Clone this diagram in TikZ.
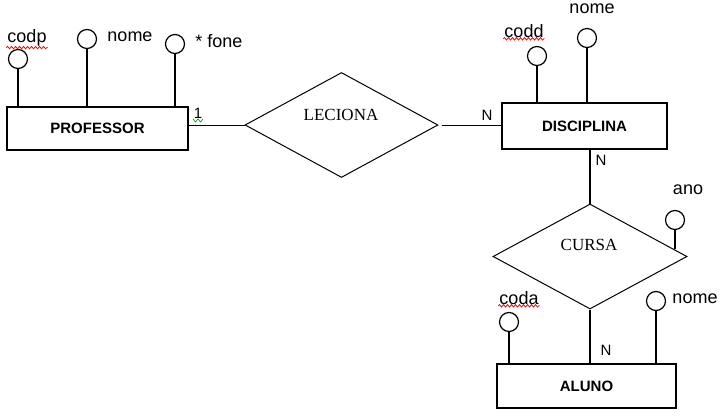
\documentclass[tikz,border=0pt]{standalone}
\usepackage{fontspec}
\setmainfont{Liberation Sans}
\newfontfamily\serifrel{Liberation Serif}
\usetikzlibrary{shapes.geometric,decorations.pathmorphing}
\tikzset{
  entity/.style={draw,line width=1.2pt,rectangle,inner sep=0pt,font=\fontsize{15}{15}\selectfont\bfseries},
  rel/.style={draw,line width=1pt,diamond,aspect=1.85,inner sep=0pt,font=\fontsize{17}{17}\serifrel},
  attr/.style={draw,line width=1.2pt,circle,minimum size=19pt,inner sep=0pt},
  lbl/.style={font=\fontsize{18}{18}\selectfont,inner sep=0pt},
  card/.style={font=\fontsize{15}{15}\selectfont,inner sep=0pt},
  ln/.style={line width=1.2pt},
  squig/.style={decorate,decoration={snake,amplitude=1.2pt,segment length=4pt},line width=0.8pt}
}
\begin{document}
\begin{tikzpicture}[x=1pt,y=-1pt]
\useasboundingbox (0,0) rectangle (727,417);
% entities
\node[entity,minimum width=181pt,minimum height=43pt] (prof) at (97.5,128.5) {PROFESSOR};
\node[entity,minimum width=165pt,minimum height=46pt] (disc) at (584.5,126) {DISCIPLINA};
\node[entity,minimum width=179pt,minimum height=44pt] (aluno) at (586.5,386) {ALUNO};
% relationships
\node[rel,minimum width=193pt,minimum height=105pt] (lec) at (341.5,125) {};
\node[font=\fontsize{17}{17}\serifrel,inner sep=0pt] (lect) at (341,115) {LECIONA};
\node[rel,minimum width=194pt,minimum height=105pt] (cursa) at (590,256.5) {};
\node[font=\fontsize{17}{17}\serifrel,inner sep=0pt] (cursat) at (589,245) {CURSA};
% attributes
\node[attr] (codp) at (18,59) {};
\node[attr] (pnome) at (87,39) {};
\node[attr] (fone) at (175,44) {};
\node[attr] (codd) at (537,56) {};
\node[attr] (dnome) at (587,38) {};
\node[attr] (ano) at (675,220) {};
\node[attr] (coda) at (509,322) {};
\node[attr] (anome) at (656,301) {};
% attribute labels
\node[lbl] (codpl) at (27,38) {codp};
\node[lbl] (pnomel) at (130,37) {nome};
\node[lbl] (fonel) at (219,41) {* fone};
\node[lbl] (coddl) at (524,31) {codd};
\node[lbl] (dnomel) at (592,9) {nome};
\node[lbl] (anol) at (688,190) {ano};
\node[lbl] (codal) at (519,298) {coda};
\node[lbl] (anomel) at (695,299) {nome};
% squiggles
\draw[red,squig] ([xshift=-1pt,yshift=-1pt]codpl.south west) -- ([xshift=1pt,yshift=-1pt]codpl.south east);
\draw[red,squig] ([xshift=-1pt,yshift=-1pt]coddl.south west) -- ([xshift=1pt,yshift=-1pt]coddl.south east);
\draw[red,squig] ([xshift=-1pt,yshift=-1pt]codal.south west) -- ([xshift=1pt,yshift=-1pt]codal.south east);
% attribute connectors
\draw[ln] (codp.south) -- (codp.south |- prof.north);
\draw[ln] (pnome.south) -- (pnome.south |- prof.north);
\draw[ln] (fone.south) -- ([yshift=-2pt]fone.south |- prof.north);
\draw[ln] (codd.south) -- (codd.south |- disc.north);
\draw[ln] (dnome.south) -- (dnome.south |- disc.north);
\draw[ln] (coda.south) -- (coda.south |- aluno.north);
\draw[ln] (anome.south) -- (anome.south |- aluno.north);
\coordinate (anoend) at (675,249);
\draw[ln] (ano.south) -- (anoend);
% relationship connectors
\draw[line width=1pt] (prof.east |- lec.west) -- (lec.west);
\draw[line width=1pt] ([xshift=3pt]lec.east) -- (disc.west |- lec.east);
\draw[ln] (disc.south -| cursa.north) -- (cursa.north);
\draw[ln] (cursa.south) -- (cursa.south |- aluno.north);
% cardinalities
\node[card] (c1) at (198,113) {1};
\draw[green!60!black,line width=0.6pt] (193,119) -- (195.5,122) -- (198,119) -- (200.5,122) -- (203,119);
\node[card] (c2) at (487,115) {N};
\node[card] (c3) at (601,160) {N};
\node[card] (c4) at (606,350) {N};
\end{tikzpicture}
\end{document}
